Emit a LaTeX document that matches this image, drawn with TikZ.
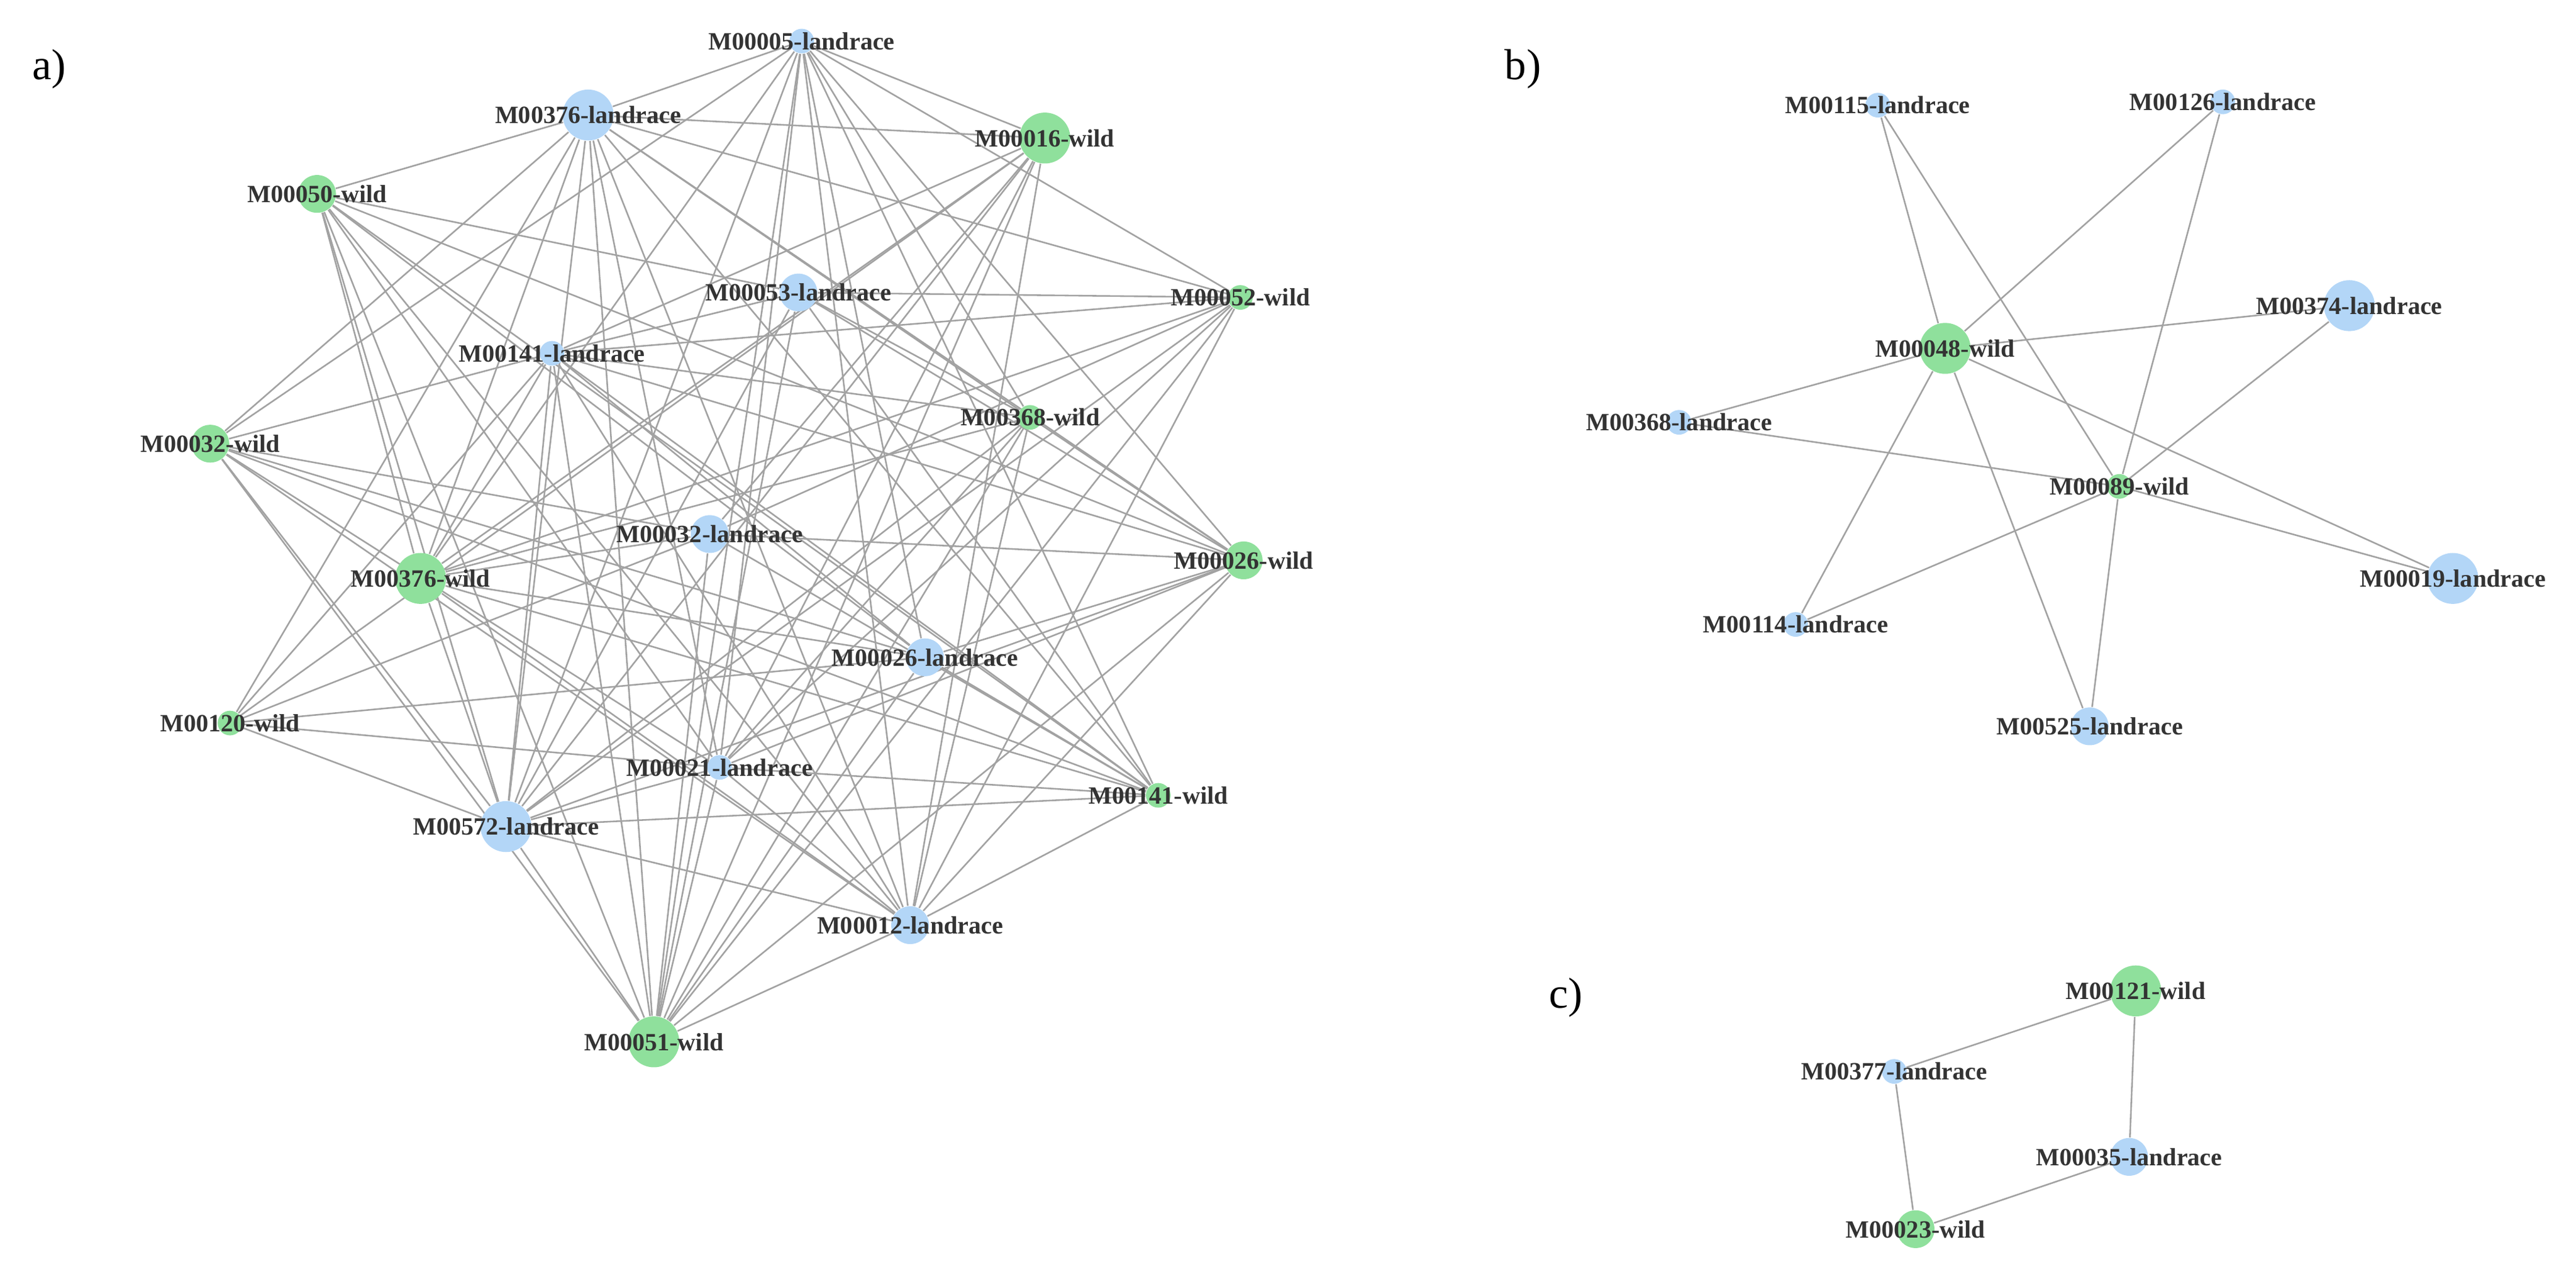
\documentclass[tikz,border=0pt]{standalone}
\usepackage{fontspec}
\setmainfont{Liberation Serif}
\usetikzlibrary{backgrounds}
\definecolor{lb}{HTML}{B3D6F7}
\definecolor{lg}{HTML}{8FE09C}
\definecolor{eg}{HTML}{A2A2A2}
\begin{document}
\begin{tikzpicture}[x=0.02cm,y=-0.02cm,
  v/.style={circle,inner sep=0pt,draw=none},
  L/.style={v,fill=lb},G/.style={v,fill=lg},
  big/.style={minimum size=0.62cm},mid/.style={minimum size=0.46cm},sm/.style={minimum size=0.3cm},
  lab/.style={font=\bfseries\fontsize{8.6}{9}\selectfont,text=black!80,inner sep=0pt},
  pl/.style={font=\fontsize{15}{16}\selectfont,inner sep=0pt},
  e/.style={draw=eg,line width=0.55pt}]
\useasboundingbox (0,0) rectangle (1568,781);
\node[pl] (pa) at (30,42) {a)};
\node[pl] (pb) at (927,42) {b)};
\node[pl] (pc) at (953,607) {c)};
% panel a
\foreach \n/\x/\y/\c/\s/\t in {
 a005/488/25/L/sm/M00005-landrace, a376L/358/70/L/big/M00376-landrace, a016/636/84/G/big/M00016-wild,
 a050/193/118/G/mid/M00050-wild, a053/486/178/L/mid/M00053-landrace, a052/755/181/G/sm/M00052-wild,
 a141L/336/215/L/sm/M00141-landrace, a368/627/254/G/sm/M00368-wild, a032W/128/270/G/mid/M00032-wild,
 a032L/432/325/L/mid/M00032-landrace, a376W/256/352/G/big/M00376-wild, a026W/757/341/G/mid/M00026-wild,
 a026L/563/400/L/mid/M00026-landrace, a120/140/440/G/sm/M00120-wild, a021L/438/467/L/sm/M00021-landrace,
 a141W/705/484/G/sm/M00141-wild, a572L/308/503/L/big/M00572-landrace, a012L/554/563/L/mid/M00012-landrace,
 a051/398/634/G/big/M00051-wild,
 b115/1143/64/L/sm/M00115-landrace, b126/1353/62/L/sm/M00126-landrace, b374/1430/186/L/big/M00374-landrace,
 b048/1184/212/G/big/M00048-wild, b368/1022/257/L/sm/M00368-landrace, b089/1290/296/G/sm/M00089-wild,
 b019/1493/352/L/big/M00019-landrace, b114/1093/380/L/sm/M00114-landrace, b525/1272/442/L/mid/M00525-landrace,
 c121/1300/603/G/big/M00121-wild, c377/1153/652/L/sm/M00377-landrace, c035/1296/704/L/mid/M00035-landrace,
 c023/1166/748/G/mid/M00023-wild}
 {\node[\c,\s] (\n) at (\x,\y) {};}
\begin{scope}[on background layer]
\foreach \a/\b in {
 a005/a376L,a005/a016,a005/a052,a005/a376W,a005/a021L,a005/a051,a005/a026L,a005/a368,a005/a141W,a005/a026W,a005/a012L,a005/a572L,a005/a032W,
 a376L/a016,a376L/a050,a376L/a052,a376L/a026W,a376L/a141W,a376L/a368,a376L/a032W,a376L/a120,a376L/a376W,a376L/a572L,a376L/a051,a376L/a021L,a376L/a012L,
 a016/a141L,a016/a376W,a016/a572L,a016/a051,a016/a021L,a016/a012L,a016/a032L,a016/a120,
 a050/a053,a050/a376W,a050/a572L,a050/a021L,a050/a026L,a050/a141W,a050/a051,a050/a012L,a050/a026W,
 a053/a052,a053/a141L,a053/a572L,a053/a051,a053/a368,a053/a141W,a053/a026W,
 a052/a141L,a052/a376W,a052/a572L,a052/a021L,a052/a012L,a052/a051,a052/a032L,
 a141L/a368,a141L/a032W,a141L/a376W,a141L/a120,a141L/a572L,a141L/a051,a141L/a012L,a141L/a141W,a141L/a026W,a141L/a026L,
 a368/a572L,a368/a021L,a368/a051,a368/a012L,a368/a026W,a368/a376W,
 a032W/a026L,a032W/a032L,a032W/a141W,a032W/a021L,a032W/a572L,a032W/a051,a032W/a012L,
 a032L/a376W,a032L/a026W,a032L/a120,a032L/a051,a032L/a141W,
 a376W/a026L,a376W/a141W,a376W/a012L,a376W/a572L,
 a026W/a021L,a026W/a572L,a026W/a026L,a026W/a012L,a026W/a051,
 a026L/a120,a026L/a141W,a026L/a051,
 a120/a021L,a120/a572L,
 a021L/a141W,a021L/a572L,a021L/a012L,a021L/a051,
 a141W/a572L,a141W/a012L,a572L/a051,a572L/a012L,a012L/a051,
 b115/b048,b115/b089,b126/b048,b126/b089,b374/b048,b374/b089,b048/b368,b368/b089,b048/b114,b114/b089,b048/b525,b048/b019,b089/b019,b089/b525,
 c121/c377,c121/c035,c377/c023,c023/c035}
 {\draw[e] (\a) -- (\b);}
\end{scope}
\foreach \n/\t in {a005/M00005-landrace,a376L/M00376-landrace,a016/M00016-wild,a050/M00050-wild,a053/M00053-landrace,a052/M00052-wild,a141L/M00141-landrace,a368/M00368-wild,a032W/M00032-wild,a032L/M00032-landrace,a376W/M00376-wild,a026W/M00026-wild,a026L/M00026-landrace,a120/M00120-wild,a021L/M00021-landrace,a141W/M00141-wild,a572L/M00572-landrace,a012L/M00012-landrace,a051/M00051-wild,
 b115/M00115-landrace,b126/M00126-landrace,b374/M00374-landrace,b048/M00048-wild,b368/M00368-landrace,b089/M00089-wild,b019/M00019-landrace,b114/M00114-landrace,b525/M00525-landrace,
 c121/M00121-wild,c377/M00377-landrace,c035/M00035-landrace,c023/M00023-wild}
 {\node[lab] (t\n) at (\n) {\t};}
\end{tikzpicture}
\end{document}
